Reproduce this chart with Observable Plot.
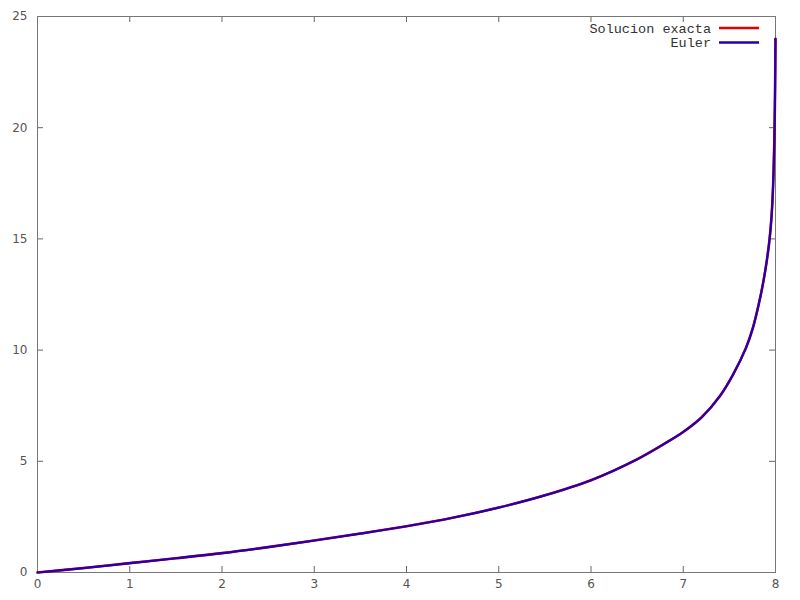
<!DOCTYPE html>
<html>
<head>
<meta charset="utf-8">
<script src="https://cdn.jsdelivr.net/npm/d3@7"></script>
<script src="https://cdn.jsdelivr.net/npm/@observablehq/plot@0.6"></script>
<style>
  html, body { margin: 0; padding: 0; background: #fff; }
  #chart { width: 800px; height: 600px; }
</style>
</head>
<body>
<div id="chart"></div>
<script>
// Values
const xs     = [0, 0.5, 1, 1.5, 2, 2.5, 3, 3.5, 4, 4.5, 5, 5.5, 6, 6.5, 6.8, 7, 7.2, 7.4, 7.54, 7.68, 7.755, 7.815, 7.865, 7.905, 7.936, 7.957, 7.970, 7.979, 7.990, 7.996, 8.0];
const exacta = [0, 0.2, 0.42, 0.64, 0.87, 1.14, 1.44, 1.75, 2.08, 2.46, 2.92, 3.47, 4.15, 5.09, 5.8, 6.32, 6.98, 7.95, 8.9, 10.1, 11, 12, 13, 14, 15, 16, 17, 18, 20, 22, 24];
const euler  = [0, 0.2, 0.42, 0.64, 0.87, 1.14, 1.44, 1.75, 2.08, 2.46, 2.92, 3.47, 4.15, 5.09, 5.8, 6.32, 6.98, 7.95, 8.9, 10.1, 11, 12, 13, 14, 15, 16, 17, 18, 20, 22, 24];
const xTicks = [0, 1, 2, 3, 4, 5, 6, 7, 8];
const yTicks = [0, 5, 10, 15, 20, 25];
const seriesNames = ["Solucion exacta", "Euler"];
const seriesColors = ["#e00000", "#2200b0"];

const exactData = xs.map((x, i) => ({x, y: exacta[i]}));
const eulerData = xs.map((x, i) => ({x, y: euler[i]}));

const W = 800, H = 600;
const mL = 37, mR = 25, mT = 16, mB = 28;
const innerH = H - mT - mB, innerW = W - mL - mR;
const tk = 6;

const plot = Plot.plot({
  width: W, height: H,
  marginLeft: mL, marginRight: mR, marginTop: mT, marginBottom: mB,
  style: {fontFamily: "DejaVu Sans", fontSize: "12px", color: "#555", background: "#fff"},
  x: {domain: [0, 8], ticks: xTicks, label: null},
  y: {domain: [0, 25], ticks: yTicks, label: null},
  marks: [
    Plot.axisX({ticks: xTicks, tickSize: 0, tickPadding: 7, label: null, fill: "#555"}),
    Plot.axisY({ticks: yTicks, tickSize: 0, tickPadding: 10, label: null, fill: "#555"}),
    Plot.tickX(xTicks, {x: d => d, insetTop: innerH - tk, stroke: "#666"}),
    Plot.tickX(xTicks, {x: d => d, insetBottom: innerH - tk, stroke: "#666"}),
    Plot.tickY(yTicks, {y: d => d, insetRight: innerW - tk, stroke: "#666"}),
    Plot.tickY(yTicks, {y: d => d, insetLeft: innerW - tk, stroke: "#666"}),
    Plot.frame({stroke: "#777"}),
    Plot.line(exactData, {x: "x", y: "y", stroke: seriesColors[0], strokeWidth: 2.6, curve: "catmull-rom"}),
    Plot.line(eulerData, {x: "x", y: "y", stroke: seriesColors[1], strokeWidth: 2.2, curve: "catmull-rom"})
  ]
});

// In-plot legend (top right, gnuplot style)
const svg = d3.select(plot);
const lg = svg.append("g").attr("font-family", "Liberation Mono, DejaVu Sans Mono, monospace").attr("font-size", "13.5px");
seriesNames.forEach((name, i) => {
  const y = 28 + i * 14.5;
  lg.append("text").attr("x", 711).attr("y", y).attr("dy", "0.35em")
    .attr("text-anchor", "end").attr("fill", "#333").text(name);
  lg.append("line").attr("x1", 719).attr("x2", 759).attr("y1", y).attr("y2", y)
    .attr("stroke", seriesColors[i]).attr("stroke-width", 2.5);
});

document.getElementById("chart").appendChild(plot);
</script>
</body>
</html>
